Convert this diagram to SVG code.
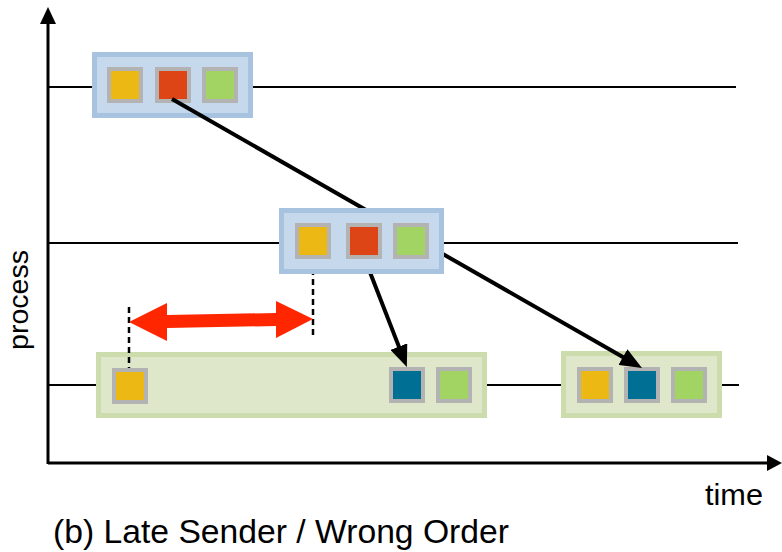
<svg xmlns="http://www.w3.org/2000/svg" width="782" height="552" viewBox="0 0 782 552">
  <style>
    .axis { stroke: #000; stroke-width: 3; fill: none; }
    .lane { stroke: #000; stroke-width: 2; fill: none; }
    .box-send { fill: #C5D8EC; stroke: #A7C3E0; stroke-width: 5; }
    .box-recv { fill: #DEE7C9; stroke: #CCDCAC; stroke-width: 5; }
    .sq { stroke: #B3B3B3; stroke-width: 4; }
    .yellow { fill: #EBB814; }
    .red { fill: #DE4516; }
    .green { fill: #A1D463; }
    .blue { fill: #006F94; }
    .msg { stroke: #000; stroke-width: 4; fill: none; }
    .guide { stroke: #000; stroke-width: 2.5; stroke-dasharray: 6 4; fill: none; }
    .label { font-family: "Liberation Sans", Arial, sans-serif; fill: #000; }
  </style>
  <defs>
    <marker id="head" viewBox="0 0 22 18" refX="10" refY="9" markerWidth="22" markerHeight="18" markerUnits="userSpaceOnUse" orient="auto">
      <path d="M0,0 L22,9 L0,18 z" fill="#000"/>
    </marker>
  </defs>

  <rect width="782" height="552" fill="#fff"/>

  <!-- axes -->
  <g id="axes">
    <line class="axis" x1="48" y1="464" x2="48" y2="22"/>
    <polygon points="48,7 40,24 56,24" fill="#000"/>
    <line class="axis" x1="48" y1="463" x2="770" y2="463"/>
    <polygon points="782,463 767,455 767,471" fill="#000"/>
  </g>

  <!-- process timelines -->
  <g id="lanes">
    <line class="lane" x1="48" y1="87" x2="736" y2="87"/>
    <line class="lane" x1="48" y1="243" x2="738" y2="243"/>
    <line class="lane" x1="48" y1="385" x2="739" y2="385"/>
  </g>

  <!-- top process: send block -->
  <g id="send-p0">
    <rect class="box-send" x="94.5" y="54.5" width="156" height="61"/>
    <rect class="sq yellow" x="109" y="69" width="32" height="32"/>
    <rect class="sq red" x="157" y="69" width="32" height="32"/>
    <rect class="sq green" x="204" y="69" width="32" height="32"/>
  </g>

  <!-- bottom process: first receive block -->
  <g id="recv-p2-a">
    <rect class="box-recv" x="98.5" y="354.5" width="386" height="61"/>
    <rect class="sq yellow" x="114" y="370" width="32" height="32"/>
    <rect class="sq blue" x="391" y="369" width="32" height="32"/>
    <rect class="sq green" x="438" y="369" width="32" height="32"/>
  </g>

  <!-- bottom process: second receive block -->
  <g id="recv-p2-b">
    <rect class="box-recv" x="563.5" y="353.5" width="156" height="62"/>
    <rect class="sq yellow" x="579" y="369" width="32" height="32"/>
    <rect class="sq blue" x="626" y="369" width="32" height="32"/>
    <rect class="sq green" x="673" y="369" width="32" height="32"/>
  </g>

  <!-- messages -->
  <g id="connectors">
    <line class="msg" x1="172" y1="99" x2="631.6" y2="362" marker-end="url(#head)"/>
    <line class="msg" x1="366" y1="262" x2="402.5" y2="355.9" marker-end="url(#head)"/>
    <line class="guide" x1="313" y1="259" x2="313" y2="338"/>
    <line class="guide" x1="129" y1="307" x2="129" y2="368"/>
    <polygon fill="#FF2600" points="129,322 167,303 167,315 276,313 276,301 313,319 276,338 276,326 167,328 167,341"/>
  </g>

  <!-- middle process: send block -->
  <g id="send-p1">
    <rect class="box-send" x="281.5" y="210.5" width="160" height="61"/>
    <rect class="sq yellow" x="297" y="225" width="32" height="32"/>
    <rect class="sq red" x="348" y="225" width="32" height="32"/>
    <rect class="sq green" x="395" y="225" width="32" height="32"/>
  </g>

  <!-- labels -->
  <g id="labels">
    <text class="label" font-size="27" text-anchor="middle" textLength="100" lengthAdjust="spacingAndGlyphs" transform="translate(28,300) rotate(-90)">process</text>
    <text class="label" x="705" y="505" font-size="30" textLength="58" lengthAdjust="spacingAndGlyphs">time</text>
    <text class="label" x="53" y="543" font-size="33" textLength="456" lengthAdjust="spacingAndGlyphs">(b) Late Sender / Wrong Order</text>
  </g>
</svg>
